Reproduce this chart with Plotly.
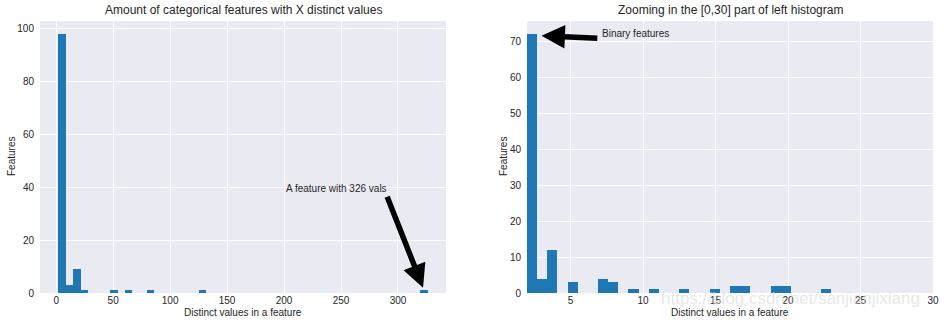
import numpy as np
import plotly.graph_objects as go

# distinct-value counts of categorical features and how many features have them
distinct_vals = [2, 3, 4, 5, 7, 8, 9, 11, 13, 15, 16, 17, 19, 20, 23, 50, 63, 83, 128, 326]
n_features = [72, 4, 12, 3, 4, 3, 1, 1, 1, 1, 2, 2, 2, 2, 1, 1, 1, 1, 1, 1]

left_bins = 50
right_bins = 30
zoom_max = 30

left_title = "Amount of categorical features with X distinct values"
right_title = "Zooming in the [0,30] part of left histogram"
x_label = "Distinct values in a feature"
y_label = "Features"
left_note = "A feature with 326 vals"
right_note = "Binary features"

BAR = "#1f77b4"
BG = "#EAEAF2"
TXT = "#262626"
FONT = "Liberation Sans, Arial, sans-serif"

vals = np.array(distinct_vals, dtype=float)
wts = np.array(n_features, dtype=float)

lc, le = np.histogram(vals, bins=left_bins, weights=wts)
mask = vals <= zoom_max
rc, re_ = np.histogram(vals[mask], bins=right_bins, weights=wts[mask])

fig = go.Figure()
fig.add_trace(go.Bar(x=(le[:-1] + le[1:]) / 2, y=lc, width=np.diff(le),
                     marker=dict(color=BAR, line=dict(width=0)),
                     xaxis="x", yaxis="y", showlegend=False))
fig.add_trace(go.Bar(x=(re_[:-1] + re_[1:]) / 2, y=rc, width=np.diff(re_),
                     marker=dict(color=BAR, line=dict(width=0)),
                     xaxis="x2", yaxis="y2", showlegend=False))

lx0, lx1 = vals.min(), vals.max()
lpad = (lx1 - lx0) * 0.05
base = dict(showgrid=True, gridcolor="white", gridwidth=1, zeroline=False,
            showline=False, tickcolor="rgba(0,0,0,0)",
            automargin=False, tickfont=dict(size=10, color=TXT, family=FONT))
xax = dict(base, ticks="")
yax = dict(base, ticks="outside", ticklen=3)

fig.update_layout(
    width=945, height=325,
    margin=dict(l=40, r=12, t=21, b=32),
    paper_bgcolor="white", plot_bgcolor=BG,
    font=dict(family=FONT, color=TXT, size=10),
    bargap=0,
    xaxis=dict(domain=[0, 0.4547], range=[lx0 - lpad, lx1 + lpad], dtick=50, tick0=0, **xax),
    yaxis=dict(range=[0, lc.max() * 1.05], dtick=20, tick0=0, **yax),
    xaxis2=dict(domain=[0.5454, 1], anchor="y2", range=[2, 30], dtick=5, tick0=0, **xax),
    yaxis2=dict(anchor="x2", range=[0, rc.max() * 1.05], dtick=10, tick0=0, **yax),
)

annos = []
for xd, yd, title, ysh in (("x domain", "y domain", left_title, -29),
                           ("x2 domain", "y2 domain", right_title, -24)):
    annos.append(dict(text=title, xref=xd, yref="paper", x=0.5, y=1, yanchor="bottom",
                      yshift=2, showarrow=False, font=dict(size=12, color=TXT)))
    annos.append(dict(text=x_label, xref=xd, yref="paper", x=0.5, y=0, yanchor="top",
                      yshift=-12, showarrow=False, font=dict(size=10, color=TXT)))
    annos.append(dict(text=y_label, xref=xd, yref=yd, x=0, y=0.5, xanchor="center",
                      yanchor="middle", xshift=ysh, textangle=-90, showarrow=False,
                      font=dict(size=10, color=TXT)))

annos += [
    dict(text=left_note, xref="x", yref="y", x=200, y=38, xanchor="left", yanchor="bottom",
         yshift=-3, showarrow=False, font=dict(size=10, color=TXT)),
    dict(text="", xref="x", yref="y", x=322, y=2.0, axref="x", ayref="y", ax=290, ay=37,
         showarrow=True, arrowhead=2, arrowsize=0.85, arrowwidth=5.5, arrowcolor="black"),
    dict(text=right_note, xref="x2", yref="y2", x=7.05, y=71, xanchor="left", yanchor="bottom",
         yshift=-3, showarrow=False, font=dict(size=10, color=TXT)),
    dict(text="", xref="x2", yref="y2", x=3.0, y=71.5, axref="x2", ayref="y2", ax=6.95, ay=70.8,
         showarrow=True, arrowhead=2, arrowsize=0.85, arrowwidth=5.5, arrowcolor="black"),
    dict(text="https://blog.csdn.net/sanjianjixiang", xref="paper", yref="paper",
         x=0.988, y=-0.02, xanchor="right", yanchor="top", yshift=11, showarrow=False,
         font=dict(size=17, color="rgba(215,215,215,0.6)")),
]
fig.update_layout(annotations=annos)

fig.write_html("out.html")
